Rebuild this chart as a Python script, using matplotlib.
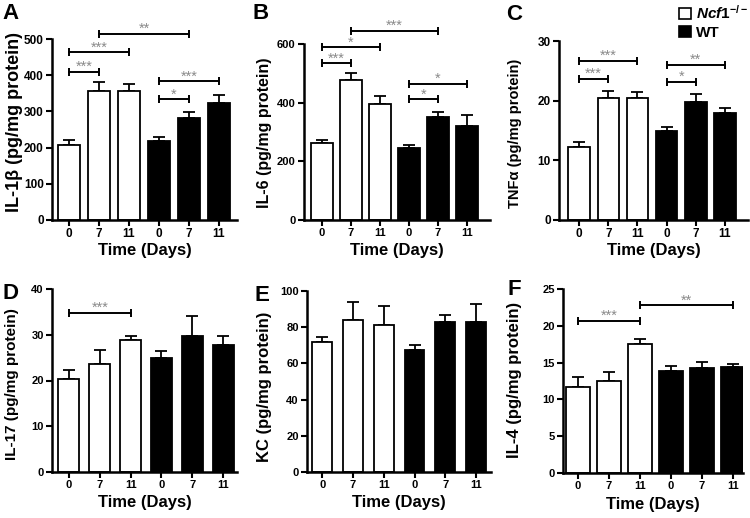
import numpy as np
import matplotlib
matplotlib.use('Agg')
import matplotlib.pyplot as plt
from matplotlib.patches import Patch

plt.rcParams['font.family'] = ['Liberation Sans', 'DejaVu Sans']
plt.rcParams['font.weight'] = 'bold'
plt.rcParams['mathtext.fontset'] = 'custom'
plt.rcParams['mathtext.it'] = 'Liberation Sans:italic:bold'
plt.rcParams['mathtext.rm'] = 'Liberation Sans:bold'

# data (mean, upper error); order: Ncf1-/- 0,7,11 then WT 0,7,11
days = ['0', '7', '11', '0', '7', '11']

il1b_mean = [207, 357, 357, 219, 281, 323]
il1b_err = [14, 23, 18, 11, 17, 22]
il1b_sig = [(0, 1, 410, '***'), (0, 2, 463, '***'), (1, 4, 514, '**'),
            (3, 4, 334, '*'), (3, 5, 384, '***')]

il6_mean = [262, 478, 397, 245, 352, 322]
il6_err = [12, 22, 27, 11, 17, 35]
il6_sig = [(0, 1, 535, '***'), (0, 2, 589, '*'), (1, 4, 646, '***'),
           (3, 4, 411, '*'), (3, 5, 465, '*')]

tnf_mean = [12.3, 20.4, 20.4, 15.0, 19.8, 18.0]
tnf_err = [0.7, 1.3, 1.1, 0.6, 1.3, 0.8]
tnf_sig = [(0, 1, 23.7, '***'), (0, 2, 26.7, '***'), (3, 4, 23.2, '*'),
           (3, 5, 26.0, '**')]

il17_mean = [20.3, 23.7, 28.8, 24.9, 29.7, 27.8]
il17_err = [1.9, 2.9, 0.9, 1.6, 4.5, 1.9]
il17_sig = [(0, 2, 34.8, '***')]

kc_mean = [71.7, 83.8, 81.4, 67.3, 82.9, 82.9]
kc_err = [2.7, 10.3, 10.3, 2.9, 3.7, 9.9]
kc_sig = []

il4_mean = [11.7, 12.5, 17.5, 13.8, 14.2, 14.4]
il4_err = [1.3, 1.2, 0.7, 0.7, 0.9, 0.4]
il4_sig = [(0, 2, 20.7, '***'), (2, 5, 22.8, '**')]

W, H = 750, 518
fig = plt.figure(figsize=(W / 100, H / 100), dpi=100)


def px_axes(l, r, top, bot):
    return fig.add_axes([l / W, 1 - bot / H, (r - l) / W, (bot - top) / H])


# letter, ylabel, data, ymax, ystep, (l, r, top, bot), xlim, bar width,
# ylabel size, tick size, ylabel centre px, letter px
panels = [
    ('A', 'IL-1β (pg/mg protein)', il1b_mean, il1b_err, il1b_sig, 500, 100,
     (52, 237, 39, 220), (-0.57, 5.6), 0.75, 13, 8.5, (15, 122), (2, 3)),
    ('B', 'IL-6 (pg/mg protein)', il6_mean, il6_err, il6_sig, 600, 200,
     (304, 490, 44, 220), (-0.62, 5.79), 0.75, 11.5, 8, (265, 133), (252, 3)),
    ('C', 'TNFα (pg/mg protein)', tnf_mean, tnf_err, tnf_sig, 30, 10,
     (559, 748, 41, 220), (-0.69, 5.79), 0.74, 10.5, 8.5, (515, 133), (506, 4)),
    ('D', 'IL-17 (pg/mg protein)', il17_mean, il17_err, il17_sig, 40, 10,
     (52, 237, 289, 472), (-0.55, 5.45), 0.68, 11, 8, (12, 384), (2, 283)),
    ('E', 'KC (pg/mg protein)', kc_mean, kc_err, kc_sig, 100, 20,
     (307, 491, 291, 472), (-0.5, 5.49), 0.65, 12, 8, (265, 387), (254, 285)),
    ('F', 'IL-4 (pg/mg protein)', il4_mean, il4_err, il4_sig, 25, 5,
     (563, 743, 289, 473), (-0.48, 5.32), 0.76, 12, 8, (514, 380), (507, 279)),
]

colors = ['white'] * 3 + ['black'] * 3

for (letter, ylab, mean, err, sig, ymax, ystep, box, xlim, bw,
     lsize, tsize, lab_px, let_px) in panels:
    l, r, top, bot = box
    ax = px_axes(l, r, top, bot)
    x = np.arange(len(mean))
    ax.bar(x, mean, width=bw, color=colors, edgecolor='black', linewidth=1.3, zorder=2)
    ax.errorbar(x, mean, yerr=[np.zeros(len(err)), err], fmt='none', ecolor='black',
                elinewidth=1.3, capsize=4.5, capthick=1.3, zorder=1)
    ax.set_xlim(*xlim)
    ax.set_ylim(0, ymax)
    ax.set_yticks(np.arange(0, ymax + ystep / 2, ystep))
    ax.set_xticks(x)
    ax.set_xticklabels(days)
    for s in ['top', 'right']:
        ax.spines[s].set_visible(False)
    for s in ['left', 'bottom']:
        ax.spines[s].set_linewidth(1.8)
    ax.tick_params(axis='both', direction='out', length=4, width=1.5,
                   labelsize=tsize, pad=2)
    for t in ax.get_xticklabels() + ax.get_yticklabels():
        t.set_fontweight('bold')

    ax.set_ylabel(ylab, fontsize=lsize, fontweight='bold')
    ax.yaxis.set_label_coords((lab_px[0] - l) / (r - l), (bot - lab_px[1]) / (bot - top))
    ax.yaxis.label.set_va('center')
    ax.set_xlabel('Time (Days)', fontsize=12, fontweight='bold')
    ax.xaxis.set_label_coords(0.5, -31 / (bot - top))
    ax.xaxis.label.set_va('center')

    for i0, i1, yb, stars in sig:
        ax.plot([i0, i1], [yb, yb], color='black', lw=1.4, marker='|',
                markersize=6, mew=1.4, clip_on=False, zorder=3)
        ax.annotate(stars, xy=((i0 + i1) / 2, yb), xytext=(0, 0.5),
                    textcoords='offset points', ha='center', va='baseline',
                    fontsize=10.5, fontweight='normal', color='#8a8a8a',
                    annotation_clip=False)

    fig.text(let_px[0] / W, 1 - let_px[1] / H, letter, fontsize=16,
             fontweight='bold', ha='left', va='top')

handles = [Patch(facecolor='white', edgecolor='black', linewidth=1.2),
           Patch(facecolor='black', edgecolor='black', linewidth=1.2)]
fig.legend(handles, [r'$\mathit{Ncf1}^{\mathit{-/-}}$', 'WT'], loc='upper left',
           bbox_to_anchor=(676 / W, 1 - 1 / H), frameon=False, fontsize=11,
           handlelength=0.8, handleheight=0.8, handletextpad=0.3,
           labelspacing=0.25, borderaxespad=0, borderpad=0.2)

fig.savefig('out.png', dpi=100)
